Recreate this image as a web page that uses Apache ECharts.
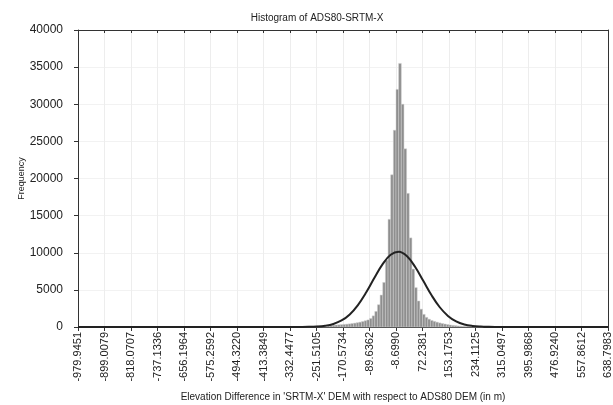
<!DOCTYPE html>
<html><head><meta charset="utf-8">
<script src="https://cdn.jsdelivr.net/npm/echarts@6/dist/echarts.min.js"></script>
<style>html,body{margin:0;padding:0;background:#fff}#c{width:613px;height:405px}</style>
</head><body><div id="c"></div>
<script>
const titleText = 'Histogram of ADS80-SRTM-X';
const xAxisTitle = "Elevation Difference in 'SRTM-X' DEM with respect to ADS80 DEM (in m)";
const yAxisTitle = 'Frequency';
const xTickLabels = ['-979.9451','-899.0079','-818.0707','-737.1336','-656.1964','-575.2592','-494.3220',
  '-413.3849','-332.4477','-251.5105','-170.5734','-89.6362','-8.6990','72.2381','153.1753','234.1125',
  '315.0497','395.9868','476.9240','557.8612','638.7983'];
const yMin = 0, yMax = 40000, yStep = 5000;
const binStart = -979.9451;
const binWidth = 8.09372;
const firstBinIndex = 76;
const binCounts = [30,35,40,45,50,60,65,75,80,95,110,120,130,145,155,170,185,200,215,230,
  250,270,295,320,350,380,420,470,520,580,650,740,840,950,1150,1500,2100,3000,4300,6000,
  9000,14500,20500,26500,32000,35500,30000,24000,18000,12000,7800,5300,3500,2400,1700,1300,
  1050,880,760,650,550,470,400,330,270,220,180,140,110,90,70,55,40,30,20,15,10];
const curveX = [-979.9451,-325,-300,-275,-250,-225,-200,-175,-150,-125,-100,-75,-50,-25,0,25,50,75,100,125,150,175,200,225,250,275,300,325,638.7983];
const curveY = [0,0,7,23,67,173,410,877,1694,2950,4635,6590,8430,9730,10135,9520,8080,6180,4270,2660,1496,756,345,143,53,18,5,0,0];

const xMin = parseFloat(xTickLabels[0]);
const xMax = parseFloat(xTickLabels[xTickLabels.length - 1]);
const xStep = (xMax - xMin) / (xTickLabels.length - 1);

const histData = binCounts.map((c, i) => {
  const l = binStart + (firstBinIndex + i) * binWidth;
  return [l, l + binWidth, c];
});
const curveData = curveX.map((x, i) => [x, curveY[i]]);

const FONT = 'Liberation Sans, Arial, sans-serif';
const chart = echarts.init(document.getElementById('c'), null, {renderer: 'canvas'});
const labelFmt = v => {
  const idx = Math.round((v - xMin) / xStep);
  return xTickLabels[idx] !== undefined ? xTickLabels[idx] : '';
};
chart.setOption({
  animation: false,
  backgroundColor: '#fff',
  title: {
    text: titleText, left: 312, top: 8, textAlign: 'center',
    textStyle: {fontFamily: FONT, fontSize: 10, fontWeight: 'normal', color: '#222'}
  },
  grid: {left: 78, right: 5, top: 30, bottom: 78, outerBoundsMode: 'none', containLabel: false},
  xAxis: [{
    type: 'value', position: 'bottom', min: xMin, max: xMax, interval: xStep,
    name: xAxisTitle, nameLocation: 'middle', nameGap: 65, nameMoveOverlap: false,
    nameTextStyle: {fontFamily: FONT, fontSize: 10, color: '#222'},
    axisLine: {show: true, onZero: false, lineStyle: {color: '#333', width: 1}},
    axisTick: {show: true, inside: false, length: 4, lineStyle: {color: '#333'}},
    axisLabel: {rotate: 90, margin: 5, fontFamily: FONT, fontSize: 11, color: '#222', formatter: labelFmt, showMinLabel: true, showMaxLabel: true},
    splitLine: {show: true, lineStyle: {color: '#ededed', width: 1}}
  }, {
    type: 'value', position: 'top', min: xMin, max: xMax, interval: xStep,
    axisLine: {show: true, onZero: false, lineStyle: {color: '#333', width: 1}},
    axisTick: {show: true, inside: true, length: 3, lineStyle: {color: '#333'}},
    axisLabel: {show: false}, splitLine: {show: false}
  }],
  yAxis: [{
    type: 'value', position: 'left', min: yMin, max: yMax, interval: yStep,
    name: yAxisTitle, nameLocation: 'middle', nameGap: 52, nameMoveOverlap: false,
    nameTextStyle: {fontFamily: FONT, fontSize: 9, color: '#222'},
    axisLine: {show: true, onZero: false, lineStyle: {color: '#333', width: 1}},
    axisTick: {show: true, inside: false, length: 4, lineStyle: {color: '#333'}},
    axisLabel: {margin: 15, fontFamily: FONT, fontSize: 12, color: '#222', formatter: v => String(v)},
    splitLine: {show: true, lineStyle: {color: '#f2f2f2', width: 1}}
  }, {
    type: 'value', position: 'right', min: yMin, max: yMax, interval: yStep,
    axisLine: {show: true, onZero: false, lineStyle: {color: '#333', width: 1}},
    axisTick: {show: false}, axisLabel: {show: false}, splitLine: {show: false}
  }],
  series: [{
    type: 'custom', xAxisIndex: 0, yAxisIndex: 0,
    encode: {x: [0, 1], y: 2},
    data: histData,
    renderItem: (params, api) => {
      const p0 = api.coord([api.value(0), api.value(2)]);
      const p1 = api.coord([api.value(1), 0]);
      return {type: 'rect', shape: {x: p0[0], y: p0[1], width: p1[0] - p0[0], height: p1[1] - p0[1]},
        style: {fill: '#8e8e8e', stroke: '#cfcfcf', lineWidth: 0.5}};
    },
    z: 2
  }, {
    type: 'line', xAxisIndex: 0, yAxisIndex: 0,
    data: curveData, smooth: 0.4, symbol: 'none',
    lineStyle: {color: '#222', width: 2}, z: 3
  }]
});
</script>
</body></html>
